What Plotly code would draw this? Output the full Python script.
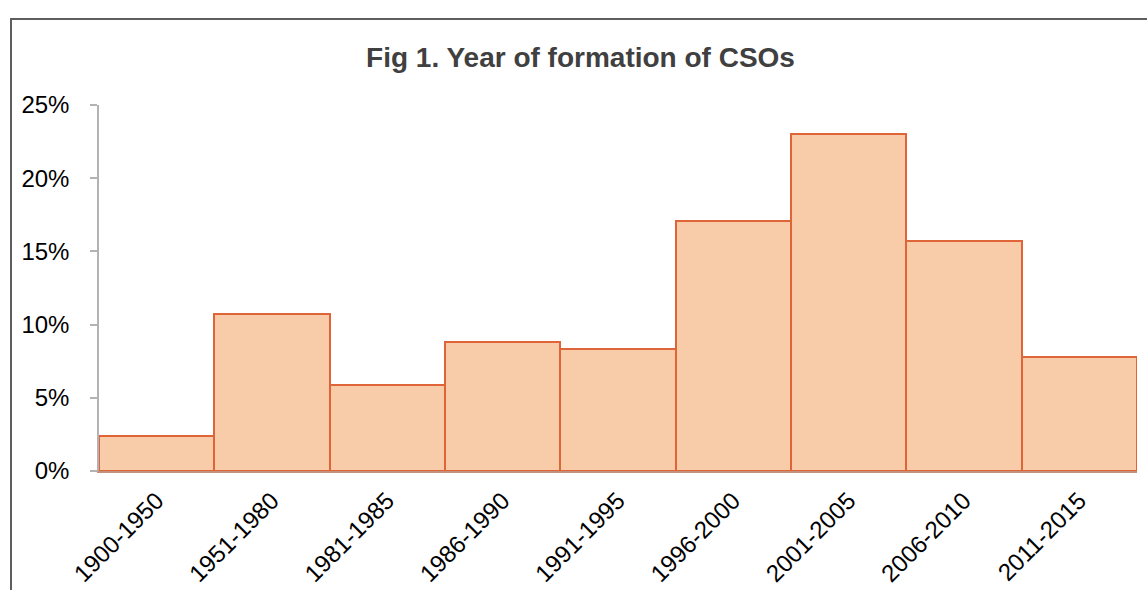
import plotly.graph_objects as go

# Share of CSOs by period of formation (percent)
periods = ["1900-1950", "1951-1980", "1981-1985", "1986-1990", "1991-1995",
           "1996-2000", "2001-2005", "2006-2010", "2011-2015"]
share_pct = [2.4, 10.7, 5.9, 8.8, 8.3, 17.1, 23.0, 15.7, 7.8]

y_ticks = [0, 5, 10, 15, 20, 25]
y_tick_text = ["0%", "5%", "10%", "15%", "20%", "25%"]

W, H = 1147, 590
ML, MR, MT, MB = 99, 10, 105, 119
plot_w = W - ML - MR
plot_h = H - MT - MB


def px_to_paper_x(px):
    return (px - ML) / plot_w


def px_to_paper_y(py):
    return (H - MB - py) / plot_h


FONT = "Liberation Sans, Arial, sans-serif"

fig = go.Figure(
    go.Bar(
        x=periods,
        y=share_pct,
        marker=dict(color="#F8CBA9", line=dict(color="#DF6437", width=2)),
        hoverinfo="x+y",
    )
)

fig.update_layout(
    width=W,
    height=H,
    margin=dict(l=ML, r=MR, t=MT, b=MB, pad=0, autoexpand=False),
    paper_bgcolor="white",
    plot_bgcolor="white",
    bargap=0,
    showlegend=False,
    title=dict(
        text="<b>Fig 1. Year of formation of CSOs</b>",
        font=dict(family=FONT, size=28, color="#404040"),
        xref="container", x=580.5 / W, xanchor="center",
        yref="container", y=1 - 57 / H, yanchor="middle",
    ),
    font=dict(family=FONT, color="#000000"),
    shapes=[
        # outer chart-area frame
        dict(
            type="rect", xref="paper", yref="paper",
            x0=px_to_paper_x(11), x1=px_to_paper_x(1160),
            y0=px_to_paper_y(19), y1=px_to_paper_y(620),
            line=dict(color="#5E5E5E", width=2),
            fillcolor="rgba(0,0,0,0)",
            layer="above",
        )
    ],
)

fig.update_yaxes(
    range=[0, 25],
    tickvals=y_ticks,
    ticktext=y_tick_text,
    automargin=False,
    showgrid=False,
    zeroline=False,
    showline=True,
    linecolor="#B3B3B3",
    linewidth=1.5,
    ticks="outside",
    ticklen=7,
    tickwidth=1.5,
    tickcolor="#B3B3B3",
    ticklabelstandoff=16,
    tickfont=dict(family=FONT, size=24, color="#000000"),
)

fig.update_xaxes(
    automargin=False,
    showgrid=False,
    zeroline=False,
    showline=True,
    linecolor="#C4907E",
    linewidth=2,
    ticks="",
    tickangle=-45,
    ticklabelstandoff=4,
    tickfont=dict(family=FONT, size=24, color="#000000"),
)

fig.write_html("out.html")
